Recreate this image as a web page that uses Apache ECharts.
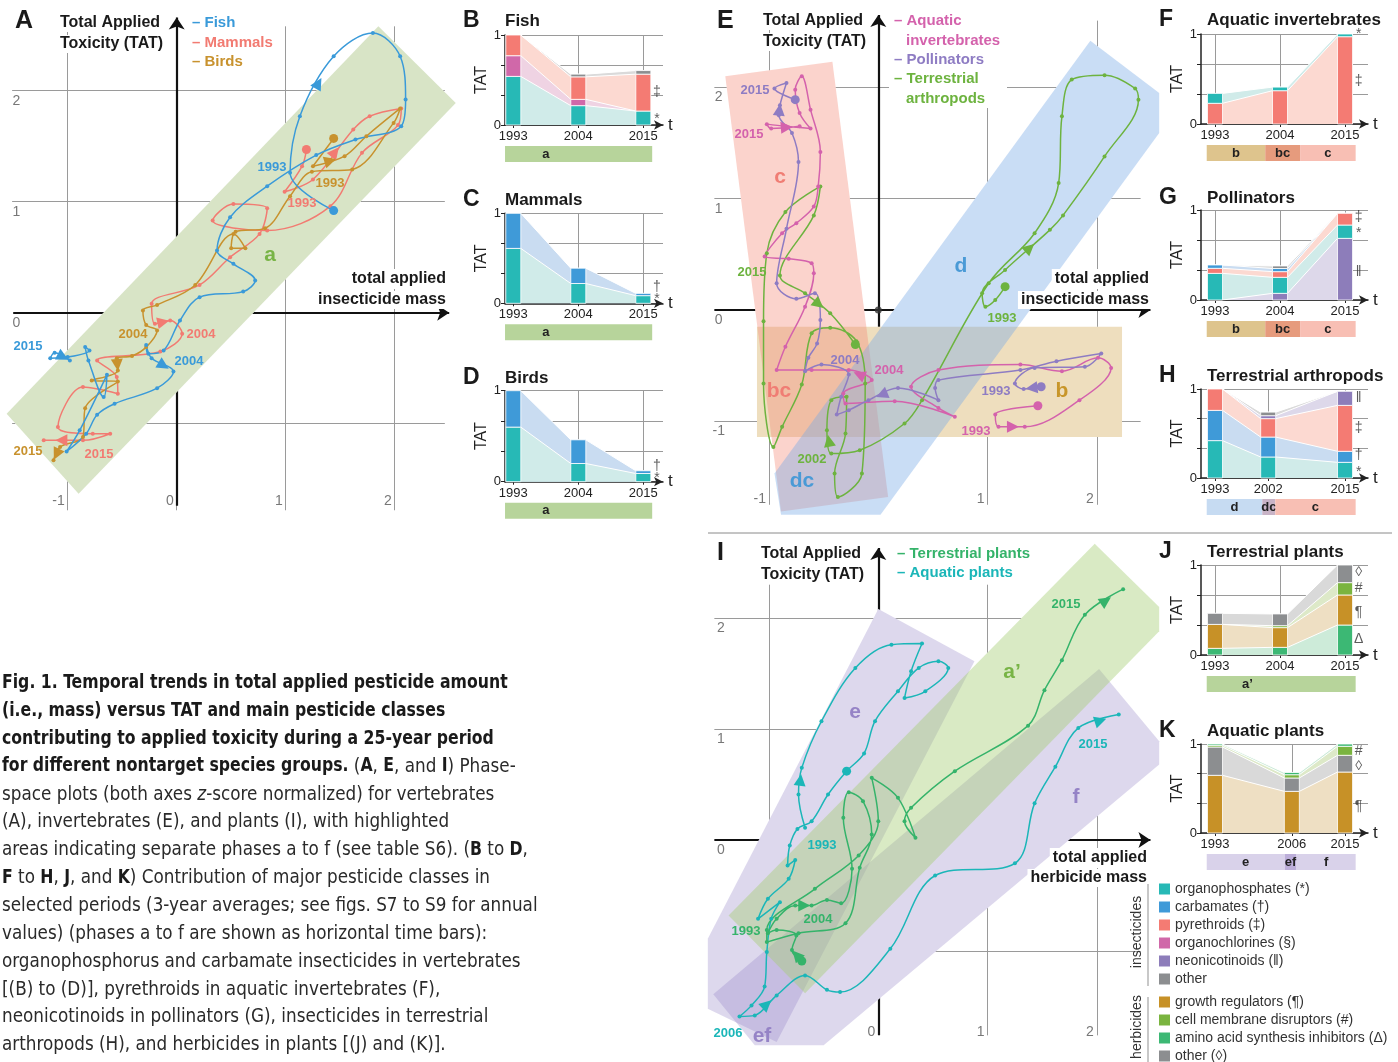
<!DOCTYPE html>
<html><head><meta charset="utf-8">
<script src="https://cdn.jsdelivr.net/npm/echarts@6/dist/echarts.min.js"></script>
<style>html,body{margin:0;padding:0;background:#fff}#c{width:1398px;height:1062px}</style>
</head><body><div id="c"></div>
<script>
// ================= DATA =================
// Phase-space tick labels
const A_xTicks=[-1,0,1,2], A_yTicks=[2,1,0];
const E_xTicks=[-1,1,2],  E_yTicks=[2,1,0,-1];
const I_xTicks=[0,1,2],   I_yTicks=[2,1,0];
const GRID_VALUES=[-1,1,2];

// Panel A trajectories (z-scored insecticide mass, TAT), 1993 -> 2015
const A_fish=[[1.44,0.92],[1.04,1.26],[1.13,1.77],[1.44,2.31],[1.80,2.52],[2.05,2.31],[2.10,1.92],[2.06,1.68],[1.64,1.56],[1.28,1.42],[0.83,1.14],[0.49,0.86],[0.37,0.56],[0.52,0.44],[0.72,0.29],[0.61,0.19],[0.21,0.14],[0.03,-0.07],[-0.12,-0.34],[-0.26,-0.37],[-0.28,-0.29],[-0.23,-0.41],[-0.03,-0.53],[-0.18,-0.68],[-0.57,-0.82],[-0.73,-0.92],[-0.83,-1.09],[-1.01,-1.25],[-0.89,-1.06],[-0.64,-0.56],[-0.67,-0.76],[-0.81,-0.43],[-0.84,-0.31],[-0.80,-0.34],[-1.00,-0.40],[-1.16,-0.41],[-1.12,-0.36],[-0.98,-0.43]];
const A_mammals=[[1.19,1.47],[1.15,1.32],[0.99,1.09],[1.25,1.20],[1.62,1.65],[1.77,1.77],[2.06,1.84],[2.03,1.69],[1.70,1.44],[1.41,0.96],[0.83,0.74],[0.33,0.83],[0.52,0.98],[0.83,0.94],[0.76,0.71],[0.49,0.50],[0.21,0.25],[-0.23,0.08],[-0.20,-0.10],[-0.06,-0.07],[0.05,-0.19],[-0.15,-0.35],[-0.73,-0.43],[-0.55,-0.58],[-0.54,-0.73],[-0.86,-0.67],[-1.09,-1.03],[-0.77,-1.09],[-0.61,-1.09],[-0.86,-1.15],[-1.22,-1.15]];
const A_birds=[[1.44,1.57],[1.25,1.32],[1.54,1.41],[1.74,1.59],[2.05,1.84],[1.99,1.71],[1.61,1.29],[1.24,1.27],[1.04,1.05],[0.81,0.76],[0.54,0.73],[0.50,0.58],[0.63,0.58],[0.52,0.71],[0.17,0.25],[-0.18,0.07],[-0.31,0.02],[-0.28,-0.11],[-0.18,-0.16],[-0.28,-0.31],[-0.41,-0.39],[-0.55,-0.41],[-0.54,-0.52],[-0.78,-0.61],[-0.54,-0.62],[-0.84,-0.86],[-0.86,-1.12],[-1.07,-1.21],[-1.13,-1.33]];

// Panel E trajectories
const E_aquaticInv=[[1.46,-0.86],[1.07,-0.94],[1.10,-1.05],[1.34,-1.05],[1.84,-0.81],[2.13,-0.52],[2.01,-0.43],[1.68,-0.55],[1.30,-0.49],[0.55,-0.54],[0.30,-0.69],[0.55,-0.88],[0.70,-0.96],[0.15,-0.82],[-0.30,-0.84],[-0.32,-0.75],[-0.06,-0.63],[-0.27,-0.54],[-0.61,-0.54],[-0.93,-0.54],[-0.85,-0.33],[-0.67,0.03],[-0.59,0.33],[-0.61,0.42],[-0.82,0.46],[-1.04,0.48],[-0.88,0.69],[-0.75,0.78],[-0.59,0.93],[-0.55,1.11],[-0.53,1.42],[-0.62,1.80],[-0.70,2.10],[-0.76,1.98],[-0.72,1.77],[-0.62,1.63],[-0.85,1.65],[-1.02,1.67],[-0.98,1.63],[-0.72,1.65]];
const E_pollinators=[[1.49,-0.69],[1.33,-0.71],[1.25,-0.66],[1.43,-0.52],[1.89,-0.51],[2.04,-0.39],[1.63,-0.46],[1.30,-0.54],[0.55,-0.63],[0.52,-0.70],[0.55,-0.81],[0.18,-0.70],[-0.09,-0.81],[-0.27,-0.90],[-0.38,-0.94],[-0.34,-0.78],[-0.27,-0.58],[-0.52,-0.49],[-0.67,-0.55],[-0.64,-0.43],[-0.56,-0.30],[-0.53,-0.09],[-0.58,0.15],[-0.75,0.10],[-0.93,0.24],[-0.84,0.73],[-0.73,1.33],[-0.79,1.59],[-0.91,1.75],[-0.90,1.84],[-0.84,2.04],[-0.95,1.99],[-0.76,1.89]];
const E_terrArthropods=[[1.16,0.21],[1.07,0.09],[0.98,0.03],[0.95,0.15],[1.16,0.36],[1.57,0.72],[1.69,0.85],[2.07,1.38],[2.38,1.89],[2.35,1.99],[2.07,2.11],[1.77,2.07],[1.68,1.74],[1.65,1.14],[1.43,0.69],[1.01,0.24],[0.40,-0.81],[0.24,-1.02],[-0.17,-1.26],[-0.43,-1.29],[-0.47,-1.08],[-0.43,-0.81],[-0.29,-0.78],[-0.30,-1.11],[-0.40,-1.47],[-0.37,-1.68],[-0.15,-1.47],[-0.12,-0.66],[-0.20,-0.28],[-0.44,-0.16],[-0.61,-0.21],[-0.70,-0.67],[-0.88,-1.05],[-0.96,-1.23],[-1.05,-0.66],[-1.05,-0.10],[-1.02,0.51],[-0.85,0.88],[-0.53,1.11],[-0.59,0.85],[-0.90,0.31],[-0.67,0.15],[-0.44,-0.03],[-0.21,-0.31]];

// Panel I trajectories (herbicide mass, TAT)
const I_terrPlants=[[-0.70,-1.09],[-0.79,-0.99],[-0.75,-0.86],[-0.93,-0.81],[-1.01,-0.84],[-0.93,-0.71],[-0.76,-0.59],[-0.61,-0.59],[-0.47,-0.54],[-0.34,-0.57],[-0.24,-0.26],[-0.32,0.20],[-0.27,0.43],[-0.14,0.35],[-0.06,0.05],[-0.17,-0.25],[-0.30,-0.75],[-0.73,-0.84],[-1.02,-0.92],[-1.02,-0.81],[-0.58,-0.44],[-0.18,-0.14],[0.00,0.17],[-0.06,0.56],[0.18,0.38],[0.34,0.02],[0.24,0.17],[0.30,0.29],[0.70,0.62],[1.37,1.03],[1.52,1.35],[1.68,1.62],[1.89,2.03],[2.24,2.26]];
const I_aquaPlants=[[-0.67,0.11],[-0.73,0.41],[-0.70,0.65],[-0.52,1.07],[-0.21,1.55],[0.12,1.76],[0.40,1.77],[0.30,1.52],[0.24,1.28],[0.43,1.34],[0.64,1.55],[0.55,1.61],[0.37,1.55],[0.18,1.34],[-0.03,1.07],[-0.13,0.78],[-0.29,0.62],[-0.46,0.41],[-0.61,0.17],[-0.74,0.10],[-0.81,-0.05],[-0.83,-0.23],[-0.76,-0.18],[-0.82,-0.35],[-1.01,-0.53],[-1.10,-0.71],[-0.90,-0.56],[-0.98,-0.71],[-1.02,-1.01],[-1.04,-1.32],[-1.16,-1.49],[-1.27,-1.59],[-1.13,-1.58],[-0.93,-1.40],[-0.67,-1.22],[-0.47,-1.35],[-0.35,-1.37],[0.11,-0.98],[0.52,-0.32],[1.25,-0.21],[1.43,0.33],[1.62,0.66],[1.83,1.01],[2.20,1.13]];

// Phase areas (polygon vertices in z-score units)
const A_band_a=[[-1.56,-0.91],[-0.90,-1.63],[2.56,1.89],[1.85,2.58]];
const E_band_b=[[-1.11,-0.15],[2.23,-0.15],[2.23,-1.14],[-1.11,-1.14]];
const E_band_c=[[-1.40,2.10],[-0.42,2.23],[0.09,-1.68],[-0.89,-1.81]];
const E_band_d=[[1.94,2.42],[2.57,1.95],[2.57,1.59],[0.02,-1.84],[-0.89,-1.84],[-0.95,-1.47]];
const I_band_e=[[0.00,2.08],[0.88,1.61],[-0.93,-1.82],[-1.56,-1.52],[-1.56,-0.89]];
const I_band_f=[[2.02,1.54],[2.57,0.89],[2.57,0.68],[-0.50,-1.85],[-1.13,-1.85],[-1.51,-1.39]];
const I_band_a2=[[1.98,2.67],[2.57,2.10],[2.57,1.88],[-0.67,-1.38],[-1.37,-0.68]];

// Small panels: 3-year-average contributions (share of max TAT)
const B_years=[1993,2004,2015];
const B_op=[0.54,0.215,0.155], B_oc=[0.23,0.07,0], B_pyr=[0.23,0.25,0.41], B_other=[0,0.03,0.04];
const C_years=[1993,2004,2015];
const C_op=[0.61,0.22,0.085], C_carb=[0.39,0.17,0.025];
const D_years=[1993,2004,2015];
const D_op=[0.60,0.20,0.09], D_carb=[0.40,0.26,0.03];
const F_years=[1993,2004,2015];
const F_pyr=[0.23,0.37,0.97], F_op=[0.11,0.04,0.03];
const G_years=[1993,2004,2015];
const G_neo=[0,0.074,0.685], G_op=[0.296,0.178,0.148], G_pyr=[0.056,0.063,0.13], G_carb=[0.037,0.035,0], G_other=[0,0.028,0];
const H_years=[1993,2002,2015];
const H_op=[0.42,0.236,0.176], H_carb=[0.34,0.224,0.124], H_pyr=[0.24,0.207,0.516], H_neo=[0,0.033,0.158], H_other=[0,0.04,0];
const J_years=[1993,2004,2015];
const J_amino=[0.074,0.085,0.333], J_growth=[0.266,0.219,0.334], J_cell=[0,0.022,0.137], J_other=[0.123,0.13,0.196];
const K_years=[1993,2006,2015];
const K_growth=[0.648,0.468,0.685], K_other=[0.318,0.15,0.188], K_cell=[0.019,0.037,0.101], K_amino=[0.015,0.025,0.026];

// Phase time bars [label, startYear, endYear]
const BCD_phases=[['a',1991.6,2016.5]];
const FG_phases=[['b',1991.6,2001.5],['bc',2001.5,2007.4],['c',2007.4,2016.8]];
const H_phases=[['d',1991.6,2001.0],['dc',2001.0,2003.2],['c',2003.2,2016.8]];
const J_phases=[['a’',1991.6,2016.8]];
const K_phases=[['e',1991.6,2004.8],['ef',2004.8,2006.8],['f',2006.8,2016.8]];

const legendInsect=['organophosphates (*)','carbamates (†)','pyrethroids (‡)','organochlorines (§)','neonicotinoids (‖)','other'];
const legendHerb=['growth regulators (¶)','cell membrane disruptors (#)','amino acid synthesis inhibitors (Δ)','other (◊)'];

// ================= STYLE =================
const FONT="'Liberation Sans', Arial, Helvetica, sans-serif";
const CAPF="'Liberation Sans Narrow', 'Arial Narrow', 'DejaVu Sans Condensed', sans-serif";
const LC={op:['#27b9b6','#d0ebe9'],carb:['#3f9ad8','#c9dcf1'],pyr:['#f47b73','#fcd9d1'],oc:['#d068a9','#efd3e3'],
  neo:['#8d7dba','#ddd8ea'],oth:['#8c8e90','#dadada'],growth:['#c79127','#eedfc3'],cell:['#7ab43f','#dde9c8'],
  amino:['#3cb874','#cdebd9'],hoth:['#8c8e90','#d9d9d9']};
const PHC={'a':'#b7d49b','b':'#dec48d','bc':'#e69b7d','c':'#f8bfb4','d':'#c6dbf2','dc':'#c8b3c6','a’':'#b7d49b','e':'#d9d2ea','ef':'#bcaed9','f':'#d9d2ea'};
const CUR={fish:'#3a9ad9',mam:'#f27b72',bird:'#c8922e',ai:'#d462ac',pol:'#8e7cc3',ta:'#6db33f',tp:'#35b36a',ap:'#1bb6b8'};

const grids=[],xAxes=[],yAxes=[],series=[],graphics=[];
function addGrid(l,t,w,h,xa,ya){const i=grids.length;grids.push({left:l,top:t,width:w,height:h});
  xAxes.push(Object.assign({gridIndex:i,type:'value'},xa));yAxes.push(Object.assign({gridIndex:i,type:'value'},ya));return i;}
function T(x,y,text,o){o=o||{};const st={x:0,y:0,text,font:`${o.w||'bold'} ${o.s||16}px ${o.f||FONT}`,fill:o.c||'#1a1a1a',align:o.a||'left',verticalAlign:'middle'};
  if(o.bg){st.backgroundColor=o.bg;st.padding=o.pad||[1,3];}
  graphics.push({type:'text',x,y,rotation:o.r||0,z:100,silent:true,style:st});}

function phasePanel(P){
  const [l,t,w,h]=P.rect;
  const g=addGrid(l,t,w,h,{min:(l-P.ox)/P.ux,max:(l+w-P.ox)/P.ux,show:false},{min:(P.oy-t-h)/P.uy,max:(P.oy-t)/P.uy,show:false});
  const ax={xAxisIndex:g,yAxisIndex:g};
  const gl=[];
  P.vTicks.forEach(v=>gl.push({coords:[[v,P.gy[0]],[v,P.gy[1]]]}));
  P.hTicks.forEach(v=>gl.push({coords:[[P.gx[0],v],[P.gx[1],v]]}));
  series.push({type:'lines',coordinateSystem:'cartesian2d',...ax,z:1,silent:true,data:gl,lineStyle:{color:'#9a9a9a',width:1,opacity:1}});
  series.push({type:'lines',coordinateSystem:'cartesian2d',...ax,z:2,silent:true,symbol:['none','arrow'],symbolSize:12,
    data:[{coords:[[P.axX[0],0],[P.axX[1],0]]},{coords:[[0,P.axY[0]],[0,P.axY[1]]]}],lineStyle:{color:'#111',width:2.2,opacity:1}});
  P.bands.forEach(b=>{
    series.push({type:'custom',...ax,z:3,silent:true,data:[b.pts[0]],renderItem:(p,api)=>({type:'polygon',shape:{points:b.pts.map(v=>api.coord(v))},style:{fill:'#fff'}})});
  });
  P.bands.forEach(b=>{
    series.push({type:'custom',...ax,z:4,silent:true,data:[b.pts[0]],renderItem:(p,api)=>({type:'polygon',shape:{points:b.pts.map(v=>api.coord(v))},style:{fill:b.color}})});
  });
  if(P.originDot) series.push({type:'scatter',...ax,z:5,silent:true,symbolSize:7,itemStyle:{color:'#333'},data:[[0,0]]});
  P.curves.forEach(c=>{
    series.push({type:'line',...ax,z:5,silent:true,smooth:0.35,symbol:'circle',symbolSize:4,showSymbol:true,
      lineStyle:{color:c.color,width:1.5},itemStyle:{color:c.color},
      data:c.pts.map((p,i)=>c.big.includes(i)?{value:p,symbolSize:9}:p)});
    series.push({type:'lines',coordinateSystem:'cartesian2d',...ax,z:6,silent:true,symbol:['none','triangle'],symbolSize:12,
      lineStyle:{color:c.color,width:0,opacity:1},
      data:c.arrows.map(i=>{const p=c.pts[i],q=c.pts[i+1];const f=k=>[p[0]+(q[0]-p[0])*k,p[1]+(q[1]-p[1])*k];return {coords:[f(0.42),f(0.55)]};})});
  });
  const lab=(pos)=>({show:true,position:pos,distance:3,color:'#555',fontSize:14,fontFamily:FONT,formatter:p=>p.name});
  series.push({type:'scatter',...ax,z:7,silent:true,symbolSize:0,label:lab('bottom'),data:P.yTicks.map(v=>({name:String(v),value:[P.lx,v]}))});
  series.push({type:'scatter',...ax,z:7,silent:true,symbolSize:0,label:lab('left'),data:P.xTicks.map(v=>({name:String(v),value:[v,P.by]}))});
}

phasePanel({rect:[0,0,460,522],ox:176.7,oy:312.7,ux:109,uy:111,vTicks:A_xTicks,hTicks:GRID_VALUES,gy:[-1.78,2.58],gx:[-1.51,2.46],
  axX:[-1.50,2.50],axY:[-1.74,2.66],lx:-1.47,by:-1.70,xTicks:A_xTicks,yTicks:A_yTicks,
  bands:[{pts:A_band_a,color:'#d8e4c6'}],
  curves:[{pts:A_mammals,color:CUR.mam,big:[0],arrows:[3,18,29]},{pts:A_birds,color:CUR.bird,big:[0],arrows:[1,21,27]},{pts:A_fish,color:CUR.fish,big:[0],arrows:[2,21,36]}]});
phasePanel({rect:[706,0,462,525],ox:878.3,oy:310,ux:109.3,uy:111.3,vTicks:GRID_VALUES,hTicks:GRID_VALUES,gy:[-1.75,2.6],gx:[-1.50,2.40],
  axX:[-1.50,2.49],axY:[-1.75,2.65],lx:-1.46,by:-1.70,xTicks:E_xTicks,yTicks:E_yTicks,originDot:true,
  bands:[{pts:E_band_b,color:'rgba(212,172,92,0.40)'},{pts:E_band_c,color:'rgba(245,140,120,0.38)'},{pts:E_band_d,color:'rgba(120,170,230,0.40)'}],
  curves:[{pts:E_terrArthropods,color:CUR.ta,big:[0,43],arrows:[4,19,41]},{pts:E_aquaticInv,color:CUR.ai,big:[0],arrows:[2,16,38]},{pts:E_pollinators,color:CUR.pol,big:[0,32],arrows:[0,11,28]}]});
phasePanel({rect:[706,535,462,527],ox:878.3,oy:840,ux:109.3,uy:111,vTicks:GRID_VALUES,hTicks:GRID_VALUES,gy:[-1.76,2.3],gx:[-1.50,2.40],
  axX:[-1.50,2.49],axY:[-1.76,2.63],lx:-1.44,by:-1.73,xTicks:I_xTicks,yTicks:I_yTicks,
  bands:[{pts:I_band_e,color:'rgba(150,135,200,0.32)'},{pts:I_band_f,color:'rgba(150,135,200,0.32)'},{pts:I_band_a2,color:'rgba(165,205,115,0.42)'}],
  curves:[{pts:I_aquaPlants,color:CUR.ap,big:[16],arrows:[1,32,42]},{pts:I_terrPlants,color:CUR.tp,big:[0],arrows:[0,6,32]}]});

// ---------- small stacked panels ----------
function small(S){
  const ppy=5.91;
  const xmin=S.years[0]-(S.bar0-S.left)/ppy, xmax=S.years[0]+(S.right-S.bar0)/ppy;
  const g=addGrid(S.left,S.y1,S.right-S.left,S.y0-S.y1,
    {min:xmin,max:xmax,splitLine:{show:false},axisLine:{show:true,lineStyle:{color:'#222',width:1.5},symbol:['none','arrow'],symbolSize:[7,9]},
     axisTick:{show:true,customValues:S.years,length:3,lineStyle:{color:'#222'}},
     axisLabel:{customValues:S.years,formatter:v=>String(Math.round(v)),fontSize:13,color:'#222',margin:5,fontFamily:FONT},
     name:'t',nameGap:5,nameTextStyle:{fontSize:17,color:'#222',fontFamily:FONT}},
    {min:0,max:1,interval:1/3,splitLine:{show:true,lineStyle:{color:'#9a9a9a',width:1}},axisLine:{show:true,lineStyle:{color:'#222',width:1.5}},
     axisTick:{show:true,length:4,lineStyle:{color:'#222'}},
     axisLabel:{formatter:v=>v<0.01?'0':(v>0.99?'1':''),fontSize:13,color:'#222',margin:4,fontFamily:FONT},
     name:'TAT',nameLocation:'middle',nameRotate:90,nameGap:13,nameTextStyle:{fontSize:16,color:'#222',fontFamily:FONT}});
  const ax={xAxisIndex:g,yAxisIndex:g};
  series.push({type:'lines',coordinateSystem:'cartesian2d',...ax,z:1,silent:true,data:S.years.map(y=>({coords:[[y,0],[y,1]]})),lineStyle:{color:'#9a9a9a',width:1,opacity:1}});
  const hw=7.5/ppy;
  const cum=[];let run=S.years.map(()=>0);
  S.layers.forEach(([vals])=>{const lo=run.slice();run=run.map((r,i)=>r+vals[i]);cum.push([lo,run.slice()]);});
  for(let k=S.layers.length-1;k>=0;k--){
    const key=S.layers[k][1],hi=cum[k][1];
    const area=[];S.years.forEach((y,i)=>{area.push([y-hw,hi[i]],[y+hw,hi[i]]);});
    series.push({type:'line',...ax,data:area,symbol:'none',silent:true,z:2,lineStyle:{color:'#fff',width:1},areaStyle:{color:LC[key][1],opacity:1}});
  }
  S.layers.forEach(([vals,key],k)=>{
    series.push({type:'custom',...ax,z:3,silent:true,data:S.years.map((y,i)=>[y,cum[k][0][i],cum[k][1][i]]),
      renderItem:(p,api)=>{const lo=api.value(1),hi=api.value(2);if(hi-lo<=0)return null;
        const a=api.coord([api.value(0),lo]),b=api.coord([api.value(0),hi]);
        return {type:'rect',shape:{x:a[0]-7.5,y:b[1],width:15,height:a[1]-b[1]},style:{fill:LC[key][0],stroke:'#fff',lineWidth:0.8}};}});
  });
  series.push({type:'custom',...ax,z:3,silent:true,data:S.phases.map(p=>[p[1],p[2]]),renderItem:(p,api)=>{
    const ph=S.phases[p.dataIndex];const a=api.coord([api.value(0),0]),b=api.coord([api.value(1),0]);
    const lx=S.phases.length===1?api.coord([1998.5,0])[0]:(a[0]+b[0])/2;
    return {type:'group',children:[{type:'rect',shape:{x:a[0],y:a[1]+21,width:b[0]-a[0],height:16},style:{fill:PHC[ph[0]]}},
      {type:'text',style:{text:ph[0],x:lx,y:a[1]+29,align:'center',verticalAlign:'middle',font:`bold 13px ${FONT}`,fill:'#222'}}]};}});
  series.push({type:'scatter',...ax,z:8,silent:true,symbolSize:0,
    label:{show:true,position:'inside',color:'#333',fontSize:14,fontFamily:FONT,formatter:p=>p.name},
    data:S.marks.map(m=>({name:m[0],value:[S.years[2]+2.3,m[1]]}))});
  T(S.left-42,S.ty,S.letter,{s:23});
  T(S.tx,S.ty,S.title,{s:17});
}
const L=(a,k)=>[a,k];
small({years:B_years,left:505,right:663,bar0:513.3,y1:35,y0:125,layers:[L(B_op,'op'),L(B_oc,'oc'),L(B_pyr,'pyr'),L(B_other,'oth')],phases:BCD_phases,marks:[['‡',0.37],['*',0.07]],letter:'B',title:'Fish',ty:21,tx:505});
small({years:C_years,left:505,right:663,bar0:513.3,y1:213.3,y0:303.3,layers:[L(C_op,'op'),L(C_carb,'carb')],phases:BCD_phases,marks:[['†',0.18],['*',0.05]],letter:'C',title:'Mammals',ty:200,tx:505});
small({years:D_years,left:505,right:663,bar0:513.3,y1:390.7,y0:481.7,layers:[L(D_op,'op'),L(D_carb,'carb')],phases:BCD_phases,marks:[['†',0.17],['*',0.04]],letter:'D',title:'Birds',ty:378,tx:505});
small({years:F_years,left:1201,right:1368,bar0:1215,y1:34,y0:124,layers:[L(F_pyr,'pyr'),L(F_op,'op')],phases:FG_phases,marks:[['*',1.0],['‡',0.48]],letter:'F',title:'Aquatic invertebrates',ty:20,tx:1207});
small({years:G_years,left:1201,right:1368,bar0:1215,y1:210,y0:300,layers:[L(G_neo,'neo'),L(G_op,'op'),L(G_pyr,'pyr'),L(G_carb,'carb'),L(G_other,'oth')],phases:FG_phases,marks:[['‡',0.92],['*',0.74],['‖',0.31]],letter:'G',title:'Pollinators',ty:198,tx:1207});
small({years:H_years,left:1201,right:1368,bar0:1215,y1:389,y0:478,layers:[L(H_op,'op'),L(H_carb,'carb'),L(H_pyr,'pyr'),L(H_neo,'neo'),L(H_other,'oth')],phases:H_phases,marks:[['‖',0.90],['‡',0.56],['†',0.26],['*',0.07]],letter:'H',title:'Terrestrial arthropods',ty:376,tx:1207});
small({years:J_years,left:1201,right:1368,bar0:1215,y1:565,y0:655,layers:[L(J_amino,'amino'),L(J_growth,'growth'),L(J_cell,'cell'),L(J_other,'hoth')],phases:J_phases,marks:[['◊',0.92],['#',0.74],['¶',0.48],['Δ',0.18]],letter:'J',title:'Terrestrial plants',ty:552,tx:1207});
small({years:K_years,left:1201,right:1368,bar0:1215,y1:744,y0:833,layers:[L(K_growth,'growth'),L(K_other,'hoth'),L(K_cell,'cell'),L(K_amino,'amino')],phases:K_phases,marks:[['#',0.92],['◊',0.75],['¶',0.30]],letter:'K',title:'Aquatic plants',ty:731,tx:1207});

// ---------- phase-space texts ----------
const WB={bg:'#fff'};
T(15,21,'A',{s:25});
T(57,23,'Total Applied',{s:16,...WB});T(57,44,'Toxicity (TAT)',{s:16,...WB});
T(192,23,'– Fish',{s:15,c:CUR.fish});T(192,43,'– Mammals',{s:15,c:CUR.mam});T(192,62,'– Birds',{s:15,c:CUR.bird});
T(449,279,'total applied',{s:16,a:'right',...WB,pad:[2,3]});T(449,300,'insecticide mass',{s:16,a:'right',...WB,pad:[1,3]});
T(270,255,'a',{s:21,c:'#78b446',a:'center'});
[['1993',272,167,CUR.fish],['1993',330,183,CUR.bird],['1993',302,203,CUR.mam],['2004',133,334,CUR.bird],['2004',201,334,CUR.mam],
 ['2004',189,361,CUR.fish],['2015',28,346,CUR.fish],['2015',28,451,CUR.bird],['2015',99,454,CUR.mam]].forEach(d=>T(d[1],d[2],d[0],{s:13,c:d[3],a:'center'}));

T(717,21,'E',{s:25});
T(760,21,'Total Applied',{s:16,...WB});T(760,42,'Toxicity (TAT)',{s:16,...WB});
graphics.push({type:'rect',z:99,silent:true,shape:{x:889,y:8,width:118,height:100},style:{fill:'#fff'}});
T(894,21,'– Aquatic',{s:15,c:CUR.ai});T(906,41,'invertebrates',{s:15,c:CUR.ai});T(894,60,'– Pollinators',{s:15,c:CUR.pol});
T(894,79,'– Terrestrial',{s:15,c:CUR.ta});T(906,99,'arthropods',{s:15,c:CUR.ta});
T(1152,279,'total applied',{s:16,a:'right',...WB,pad:[2,3]});T(1152,300,'insecticide mass',{s:16,a:'right',...WB,pad:[1,3]});
[['c',780,177,'#f07d74'],['bc',779,391,'#f07d74'],['d',961,266,'#4a9ad6'],['dc',802,481,'#4a9ad6'],['b',1062,391,'#c8962a']].forEach(d=>T(d[1],d[2],d[0],{s:21,c:d[3],a:'center'}));
[['2015',755,90,CUR.pol],['2015',749,134,CUR.ai],['2015',752,272,CUR.ta],['1993',1002,318,CUR.ta],['2004',845,360,CUR.pol],
 ['2004',889,370,CUR.ai],['1993',996,391,CUR.pol],['1993',976,431,CUR.ai],['2002',812,459,CUR.ta]].forEach(d=>T(d[1],d[2],d[0],{s:13,c:d[3],a:'center'}));

T(717,553,'I',{s:25});
T(758,554,'Total Applied',{s:16,...WB});T(758,575,'Toxicity (TAT)',{s:16,...WB});
T(894,554,'– Terrestrial plants',{s:15,c:CUR.tp,...WB});T(894,573,'– Aquatic plants',{s:15,c:CUR.ap,...WB});
T(1150,858,'total applied',{s:16,a:'right',...WB,pad:[2,3]});T(1150,878,'herbicide mass',{s:16,a:'right',...WB,pad:[1,3]});
[['e',855,712,'#9583c6'],['a’',1012,672,'#78b446'],['f',1076,797,'#9583c6'],['ef',762,1036,'#9583c6']].forEach(d=>T(d[1],d[2],d[0],{s:21,c:d[3],a:'center'}));
[['2015',1066,604,CUR.tp],['2015',1093,744,CUR.ap],['1993',822,845,CUR.ap],['2004',818,919,CUR.tp],['1993',746,931,CUR.tp],['2006',728,1033,CUR.ap]].forEach(d=>T(d[1],d[2],d[0],{s:13,c:d[3],a:'center'}));

graphics.push({type:'line',z:50,silent:true,shape:{x1:708,y1:533,x2:1392,y2:533},style:{stroke:'#8a8a8a',lineWidth:1}});

// ---------- legend ----------
const insCols=['op','carb','pyr','oc','neo','oth'].map(k=>LC[k][0]);
const herCols=['growth','cell','amino','hoth'].map(k=>LC[k][0]);
legendInsect.forEach((t,i)=>{const y=889+i*18;graphics.push({type:'rect',z:100,silent:true,shape:{x:1159,y:y-5.5,width:11,height:11},style:{fill:insCols[i]}});T(1175,y,t,{w:'normal',s:14,c:'#333'});});
legendHerb.forEach((t,i)=>{const y=1002+i*18;graphics.push({type:'rect',z:100,silent:true,shape:{x:1159,y:y-5.5,width:11,height:11},style:{fill:herCols[i]}});T(1175,y,t,{w:'normal',s:14,c:'#333'});});
graphics.push({type:'rect',z:100,silent:true,shape:{x:1147,y:884,width:2,height:102},style:{fill:'#c8c8c8'}});
graphics.push({type:'rect',z:100,silent:true,shape:{x:1147,y:997,width:2,height:65},style:{fill:'#c8c8c8'}});
T(1137,932,'insecticides',{w:'normal',s:14,c:'#333',a:'center',r:Math.PI/2});
T(1137,1027,'herbicides',{w:'normal',s:14,c:'#333',a:'center',r:Math.PI/2});

// ---------- caption ----------
const captionLines=[
 [['b','Fig. 1. Temporal trends in total applied pesticide amount']],
 [['b','(i.e., mass) versus TAT and main pesticide classes']],
 [['b','contributing to applied toxicity during a 25-year period']],
 [['b','for different nontarget species groups.'],['n',' ('],['b','A'],['n',', '],['b','E'],['n',', and '],['b','I'],['n',') Phase-']],
 [['n','space plots (both axes '],['i','z'],['n','-score normalized) for vertebrates']],
 [['n','(A), invertebrates (E), and plants (I), with highlighted']],
 [['n','areas indicating separate phases a to f (see table S6). ('],['b','B'],['n',' to '],['b','D'],['n',',']],
 [['b','F'],['n',' to '],['b','H'],['n',', '],['b','J'],['n',', and '],['b','K'],['n',') Contribution of major pesticide classes in']],
 [['n','selected periods (3-year averages; see figs. S7 to S9 for annual']],
 [['n','values) (phases a to f are shown as horizontal time bars):']],
 [['n','organophosphorus and carbamate insecticides in vertebrates']],
 [['n','[(B) to (D)], pyrethroids in aquatic invertebrates (F),']],
 [['n','neonicotinoids in pollinators (G), insecticides in terrestrial']],
 [['n','arthropods (H), and herbicides in plants [(J) and (K)].']]
];
captionLines.forEach((segs,i)=>{
  graphics.push({type:'text',x:2,y:683+i*27.85,scaleX:0.935,z:100,silent:true,style:{x:0,y:0,verticalAlign:'middle',
    text:segs.map(s=>`{${s[0]}|${s[1]}}`).join(''),
    rich:{b:{font:`bold 18.7px ${CAPF}`,fill:'#1a1a1a'},n:{font:`20px ${CAPF}`,fill:'#2a2a2a'},i:{font:`italic 20px ${CAPF}`,fill:'#2a2a2a'}}}});
});

const chart=echarts.init(document.getElementById('c'),null,{renderer:'canvas'});
chart.setOption({animation:false,backgroundColor:'#fff',textStyle:{fontFamily:FONT},grid:grids,xAxis:xAxes,yAxis:yAxes,series,graphic:{elements:graphics}});
</script></body></html>
